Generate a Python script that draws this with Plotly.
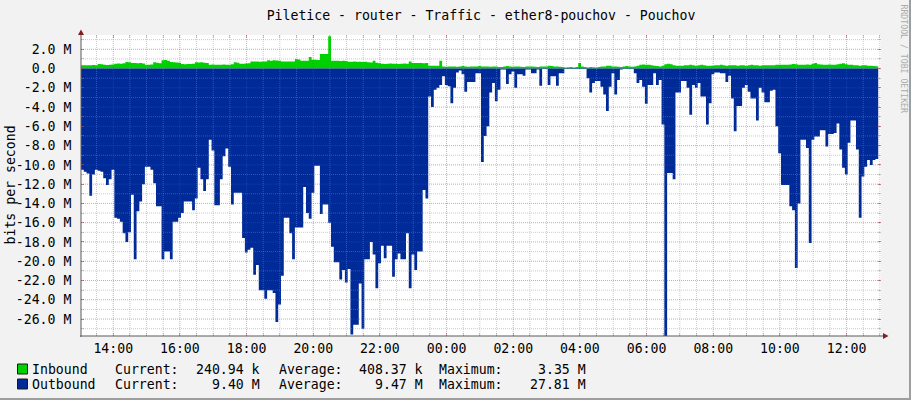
import pandas as pd
import plotly.graph_objects as go

# ---------------- data (Mbit/s, one value per 5-minute sample) ----------------
title_text = "Piletice - router - Traffic - ether8-pouchov - Pouchov"
start_time = "2024-05-01 13:02"
range_end = "2024-05-02 13:02"

inbound_mbps = [
    0.33, 0.35, 0.33, 0.34, 0.36, 0.33, 0.47, 0.45, 0.38, 0.36, 0.40, 0.42,
    0.50, 0.52, 0.50, 0.55, 0.67, 0.65, 0.57, 0.58, 0.55, 0.57, 0.52, 0.40,
    0.38, 0.42, 0.66, 0.60, 0.55, 0.85, 0.88, 0.82, 0.67, 0.65, 0.62, 0.60,
    0.47, 0.45, 0.47, 0.48, 0.50, 0.64, 0.62, 0.64, 0.60, 0.58, 0.40, 0.42,
    0.40, 0.38, 0.40, 0.41, 0.40, 0.39, 0.45, 0.64, 0.60, 0.50, 0.50, 0.52,
    0.55, 0.74, 0.72, 0.74, 0.70, 0.74, 0.72, 0.85, 0.82, 0.85, 0.83, 0.80,
    0.74, 0.74, 0.72, 0.74, 0.74, 1.00, 0.95, 0.80, 0.82, 0.80, 1.20, 0.90,
    0.90, 0.88, 1.50, 1.50, 1.50, 3.35, 0.80, 0.82, 0.80, 0.78, 0.80, 0.78,
    0.70, 0.70, 0.72, 0.70, 0.70, 0.68, 0.70, 0.65, 0.62, 0.80, 0.60, 0.55,
    0.50, 0.48, 0.50, 0.52, 0.50, 0.50, 0.48, 0.50, 0.52, 0.50, 0.74, 0.57,
    0.57, 0.58, 0.57, 0.56, 0.57, 0.30, 0.28, 0.30, 0.30, 0.80, 0.20, 0.18,
    0.20, 0.22, 0.20, 0.18, 0.20, 0.25, 0.20, 0.18, 0.20, 0.20, 0.22, 0.25,
    0.20, 0.22, 0.20, 0.18, 0.20, 0.20, 0.15, 0.15, 0.20, 0.25, 0.20, 0.18,
    0.22, 0.20, 0.18, 0.15, 0.20, 0.22, 0.20, 0.18, 0.15, 0.20, 0.22, 0.20,
    0.30, 0.25, 0.22, 0.20, 0.18, 0.15, 0.10, 0.12, 0.15, 0.10, 0.15, 0.57,
    0.20, 0.15, 0.10, 0.15, 0.12, 0.10, 0.15, 0.20, 0.22, 0.30, 0.28, 0.22,
    0.20, 0.18, 0.15, 0.20, 0.25, 0.20, 0.18, 0.20, 0.30, 0.40, 0.42, 0.40,
    0.38, 0.35, 0.30, 0.25, 0.22, 0.30, 0.45, 0.50, 0.45, 0.35, 0.30, 0.30,
    0.30, 0.33, 0.35, 0.40, 0.33, 0.30, 0.35, 0.38, 0.33, 0.30, 0.28, 0.30,
    0.33, 0.35, 0.38, 0.35, 0.30, 0.33, 0.35, 0.33, 0.30, 0.35, 0.33, 0.30,
    0.33, 0.38, 0.35, 0.33, 0.30, 0.33, 0.35, 0.33, 0.33, 0.35, 0.38, 0.40,
    0.40, 0.38, 0.40, 0.42, 0.48, 0.45, 0.40, 0.38, 0.40, 0.42, 0.40, 0.50,
    0.57, 0.45, 0.42, 0.40, 0.38, 0.42, 0.40, 0.38, 0.45, 0.50, 0.55, 0.45,
    0.40, 0.38, 0.35, 0.33, 0.30, 0.33, 0.35, 0.30, 0.28, 0.25, 0.24,
]

outbound_mbps = [
    10.5, 10.7, 10.9, 13.2, 11.0, 10.5, 10.6, 10.7, 11.4, 12.1, 11.5, 10.5,
    15.5, 15.6, 15.9, 17.1, 18.0, 17.0, 13.1, 19.8, 14.8, 13.8, 12.0, 10.2,
    10.2, 10.5, 11.9, 14.3, 14.3, 19.8, 19.0, 19.0, 19.8, 15.9, 15.9, 15.5,
    15.0, 13.8, 13.8, 13.8, 14.7, 13.5, 10.3, 11.5, 12.7, 11.5, 7.4, 8.5,
    14.2, 14.2, 11.5, 9.1, 8.3, 10.2, 14.1, 12.9, 12.9, 12.9, 17.6, 19.1,
    18.8, 18.6, 21.4, 20.4, 23.0, 23.0, 23.9, 23.0, 23.0, 23.3, 26.3, 24.5,
    21.5, 15.5, 15.5, 17.1, 19.8, 16.5, 16.5, 16.5, 12.3, 15.0, 15.6, 12.9,
    10.1, 10.1, 15.1, 14.1, 14.1, 16.0, 18.5, 20.1, 20.1, 21.9, 20.9, 22.2,
    20.8, 27.6, 26.6, 26.6, 22.3, 27.0, 19.8, 19.8, 18.0, 19.3, 22.8, 20.2,
    18.4, 19.7, 18.4, 18.4, 21.6, 19.8, 19.2, 19.8, 19.8, 17.1, 22.8, 19.3,
    20.9, 19.0, 19.0, 12.6, 13.5, 2.9, 4.0, 2.2, 2.0, 1.7, 0.8, 1.7,
    1.85, 3.6, 2.0, 0.4, 0.2, 0.6, 2.4, 1.4, 1.4, 1.4, 0.5, 0.5,
    9.7, 7.0, 6.0, 2.5, 1.5, 3.4, 2.2, 0.1, 0.1, 1.6, 0.6, 0.3,
    2.0, 0.6, 0.6, 0.75, 0.1, 0.1, 0.5, 0.5, 0.1, 1.8, 0.05, 0.05,
    1.7, 0.8, 0.8, 1.8, 0.5, 0.5, 0.05, 0.05, 0.05, 0.05, 0.05, 0.05,
    0.05, 0.05, 1.0, 2.5, 1.5, 1.3, 1.3, 1.9, 2.7, 4.4, 1.9, 0.5,
    2.7, 1.2, 0.1, 0.05, 0.05, 0.05, 0.05, 0.5, 1.5, 1.2, 1.9, 3.65,
    1.7, 1.7, 0.5, 1.7, 1.2, 5.8, 27.81, 10.85, 10.85, 11.5, 2.5, 2.5,
    1.3, 1.3, 2.0, 4.8, 1.7, 2.0, 1.5, 2.9, 2.9, 5.8, 3.6, 0.6,
    0.4, 0.4, 0.5, 0.5, 1.4, 0.75, 3.1, 6.5, 3.9, 3.9, 2.0, 1.7,
    2.4, 3.1, 3.1, 5.4, 2.0, 2.5, 3.5, 3.5, 2.3, 2.2, 6.0, 8.8,
    12.1, 12.1, 12.1, 14.3, 14.7, 20.7, 14.0, 7.4, 7.4, 8.25, 18.1, 7.4,
    7.05, 7.05, 6.4, 6.4, 8.1, 6.8, 6.8, 6.7, 5.7, 8.4, 10.3, 11.0,
    7.7, 5.4, 5.4, 8.4, 15.5, 11.2, 10.2, 9.5, 10.0, 9.5, 9.4,
]

y_tick_values = [2, 0, -2, -4, -6, -8, -10, -12, -14, -16, -18, -20, -22, -24, -26]
y_tick_labels = ["2.0 M", "0.0\u00a0\u00a0", "-2.0 M", "-4.0 M", "-6.0 M", "-8.0 M",
                 "-10.0 M", "-12.0 M", "-14.0 M", "-16.0 M", "-18.0 M", "-20.0 M",
                 "-22.0 M", "-24.0 M", "-26.0 M"]

legend_names = ["Inbound", "Outbound"]
legend_current = ["240.94 k", "9.40 M"]
legend_average = ["408.37 k", "9.47 M"]
legend_maximum = ["3.35 M", "27.81 M"]

y_title = "bits per second"
side_text = "RRDTOOL / TOBI OETIKER"

# ---------------- styling ----------------
W, H = 911, 400
PL, PR, PT, PB = 81, 881, 35, 336
Y_MIN, Y_MAX = -27.76, 3.48
BG = "#F2F2F2"
GREEN = "#00CF00"
BLUE = "#002A97"
FONT = "DejaVu Sans Mono"
FS = 13.2
MINOR_C = "rgba(140,140,140,0.45)"
MAJOR_C = "rgba(200,40,40,0.45)"
AXIS_C = "#5A5A5A"
ARROW_C = "#7F1F1F"


def px(x):
    return (x - PL) / (PR - PL)


def py(y):
    return (PB - y) / (PB - PT)


n = len(outbound_mbps)
times = pd.date_range(start_time, periods=n + 1, freq="5min")
in_y = list(inbound_mbps) + [inbound_mbps[-1]]
out_y = [-v for v in outbound_mbps] + [-outbound_mbps[-1]]

fig = go.Figure()
fig.add_trace(go.Scatter(x=times, y=in_y, mode="lines", line=dict(width=0, shape="hv", color=GREEN),
                         fill="tozeroy", fillcolor=GREEN, hoverinfo="skip", showlegend=False))
fig.add_trace(go.Scatter(x=times, y=out_y, mode="lines", line=dict(width=0, shape="hv", color=BLUE),
                         fill="tozeroy", fillcolor=BLUE, hoverinfo="skip", showlegend=False))

shapes = []
# grid drawn above the data like rrdtool
grid_times = pd.date_range("2024-05-01 13:30", range_end, freq="30min")
for t in grid_times:
    major = (t.minute == 0 and t.hour % 2 == 0)
    shapes.append(dict(type="line", xref="x", yref="paper", x0=t, x1=t, y0=0, y1=1, layer="above",
                       line=dict(color=MAJOR_C if major else MINOR_C, width=1, dash="1px,1px")))
for v in range(-27, 4):
    major = (v % 2 == 0)
    shapes.append(dict(type="line", xref="paper", yref="y", x0=0, x1=1, y0=v, y1=v, layer="above",
                       line=dict(color=MAJOR_C if major else MINOR_C, width=1, dash="1px,1px")))

# axes lines + arrows
shapes.append(dict(type="line", xref="paper", yref="paper", x0=px(PL), x1=px(PL), y0=py(PB + 1), y1=py(31),
                   layer="above", line=dict(color=AXIS_C, width=1)))
shapes.append(dict(type="line", xref="paper", yref="paper", x0=px(PL - 1), x1=px(884), y0=py(PB), y1=py(PB),
                   layer="above", line=dict(color=AXIS_C, width=1)))
shapes.append(dict(type="path", xref="paper", yref="paper", layer="above",
                   path=f"M {px(78)},{py(35)} L {px(84)},{py(35)} L {px(81)},{py(29.5)} Z",
                   fillcolor=ARROW_C, line=dict(width=0)))
shapes.append(dict(type="path", xref="paper", yref="paper", layer="above",
                   path=f"M {px(883)},{py(333)} L {px(883)},{py(339)} L {px(888.5)},{py(336)} Z",
                   fillcolor=ARROW_C, line=dict(width=0)))
# 3d frame (right/bottom shade)
shapes.append(dict(type="rect", xref="paper", yref="paper", x0=px(909), x1=px(911), y0=py(400), y1=py(0),
                   fillcolor="#9E9E9E", line=dict(width=0)))
shapes.append(dict(type="rect", xref="paper", yref="paper", x0=px(0), x1=px(911), y0=py(400), y1=py(398),
                   fillcolor="#9E9E9E", line=dict(width=0)))

annotations = []
row_y = [369, 384]
colors = [GREEN, BLUE]
for i in range(2):
    yy = row_y[i]
    shapes.append(dict(type="rect", xref="paper", yref="paper", x0=px(17.5), x1=px(27.5),
                       y0=py(yy - 5), y1=py(yy + 5), fillcolor=colors[i],
                       line=dict(color="#1A1A1A", width=1)))
    items = [(legend_names[i], 31.5, "left"), ("Current:", 115, "left"), (legend_current[i], 260, "right"),
             ("Average:", 278.5, "left"), (legend_average[i], 423, "right"),
             ("Maximum:", 439, "left"), (legend_maximum[i], 585.5, "right")]
    for txt, xx, anc in items:
        annotations.append(dict(text=txt, xref="paper", yref="paper", x=px(xx), y=py(yy), xanchor=anc,
                                yanchor="middle", showarrow=False, borderpad=0, borderwidth=0,
                                font=dict(family=FONT, size=FS, color="#000000")))

annotations.append(dict(text=y_title, xref="paper", yref="paper", x=px(10), y=py(185.5), textangle=-90,
                        xanchor="center", yanchor="middle", showarrow=False,
                        font=dict(family=FONT, size=FS, color="#000000")))
annotations.append(dict(text=side_text, xref="paper", yref="paper", x=px(903.5), y=py(59), textangle=90,
                        xanchor="center", yanchor="middle", showarrow=False,
                        font=dict(family=FONT, size=8.2, color="#ABABAB")))

fig.update_layout(
    width=W, height=H,
    margin=dict(l=PL, r=W - PR, t=PT, b=H - PB, pad=0),
    paper_bgcolor=BG, plot_bgcolor="#FFFFFF",
    title=dict(text=title_text, x=0.5, xanchor="center", xref="paper", y=1 - 15 / H, yanchor="middle",
               font=dict(family=FONT, size=FS, color="#000000")),
    shapes=shapes, annotations=annotations,
    xaxis=dict(range=[start_time, range_end], type="date", showgrid=False, zeroline=False,
               tickformat="%H:%M", dtick=7200000, tick0="2024-05-01 00:00",
               ticks="inside", ticklen=3, tickcolor=MAJOR_C, showline=True,
               linecolor="rgba(0,0,0,0)", mirror="ticks", layer="above traces",
               minor=dict(dtick=1800000, tick0="2024-05-01 00:00", ticks="inside", ticklen=3,
                          tickcolor=MINOR_C, showgrid=False),
               tickfont=dict(family=FONT, size=FS, color="#000000"), fixedrange=True),
    yaxis=dict(range=[Y_MIN, Y_MAX], showgrid=False, zeroline=False,
               tickvals=y_tick_values, ticktext=y_tick_labels,
               ticks="inside", ticklen=3, tickcolor=MAJOR_C, showline=True,
               linecolor="rgba(0,0,0,0)", mirror="ticks", layer="above traces",
               ticklabelstandoff=6,
               minor=dict(dtick=1, tick0=0, ticks="inside", ticklen=3, tickcolor=MINOR_C, showgrid=False),
               tickfont=dict(family=FONT, size=FS, color="#000000"), fixedrange=True),
)

fig.write_html("out.html", config={"displayModeBar": False},
               post_script="document.body.style.margin='0';document.body.style.padding='0';"
                           "document.body.style.background='" + BG + "';")
